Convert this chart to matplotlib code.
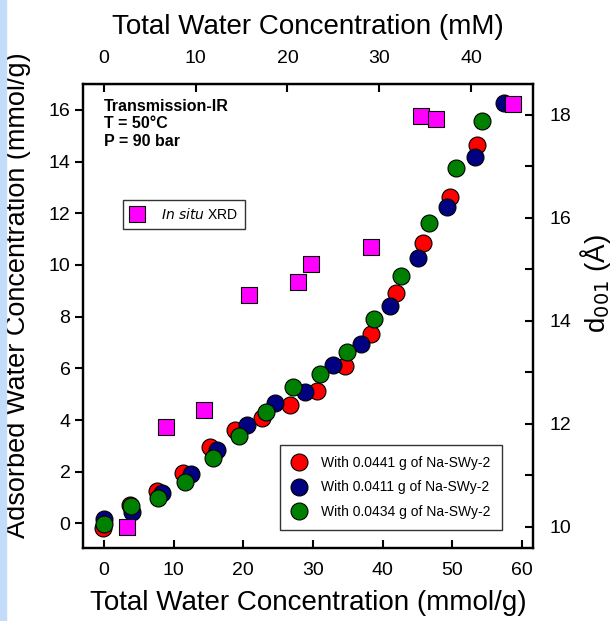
import numpy as np
import matplotlib
matplotlib.use("Agg")
import matplotlib.pyplot as plt
from matplotlib.patches import Rectangle
from matplotlib.ticker import MultipleLocator

plt.rcParams['font.family'] = ['Liberation Sans', 'DejaVu Sans']

# Adsorbed water (mmol/g) vs total water (mmol/g), three sample masses
x_red = [-0.1, 3.8, 7.66, 11.4, 15.2, 18.8, 22.7, 26.7, 30.6, 34.6, 38.3, 42.0, 45.8, 49.7, 53.5]
y_red = [-0.19, 0.72, 1.26, 1.94, 2.94, 3.61, 4.06, 4.58, 5.13, 6.09, 7.33, 8.93, 10.86, 12.62, 14.65]
x_blue = [0.05, 3.97, 8.29, 12.45, 16.3, 20.5, 24.6, 28.9, 32.9, 36.9, 41.0, 45.1, 49.2, 53.3, 57.4]
y_blue = [0.19, 0.45, 1.19, 1.9, 2.86, 3.8, 4.67, 5.1, 6.13, 6.94, 8.41, 10.26, 12.26, 14.17, 16.26]
x_green = [0.05, 3.88, 7.7, 11.6, 15.6, 19.4, 23.2, 27.2, 31.0, 34.96, 38.8, 42.7, 46.6, 50.5, 54.35]
y_green = [-0.03, 0.68, 0.97, 1.59, 2.54, 3.38, 4.32, 5.27, 5.77, 6.64, 7.9, 9.57, 11.61, 13.74, 15.58]

# In situ XRD d001 spacing (Angstrom)
x_xrd = [3.26, 8.9, 14.4, 20.8, 27.9, 29.7, 38.3, 45.5, 47.7, 58.7]
d_xrd = [10.0, 11.94, 12.27, 14.51, 14.75, 15.11, 15.43, 17.98, 17.93, 18.22]

labels = ["With 0.0441 g of Na-SWy-2", "With 0.0411 g of Na-SWy-2", "With 0.0434 g of Na-SWy-2"]
mm_per_mmolg = 1.0 / 1.3176

fig = plt.figure(figsize=(6.12, 6.21), dpi=100)
fig.patches.append(Rectangle((0, 0), 6 / 612, 1, transform=fig.transFigure,
                             color='#c2dcf9', zorder=0))
ax = fig.add_axes([83 / 612, 1 - 548 / 621, 450 / 612, 464 / 621])

ms_c = 12.2
ax.plot(x_red, y_red, 'o', ms=ms_c, mfc='#ff0000', mec='black', mew=0.8, label=labels[0])
ax.plot(x_blue, y_blue, 'o', ms=ms_c, mfc='#000080', mec='black', mew=0.8, label=labels[1])
ax.plot(x_green, y_green, 'o', ms=ms_c, mfc='#008000', mec='black', mew=0.8, label=labels[2])

ax.set_xlim(-3.0, 61.6)
ax.set_ylim(-0.95, 17.0)
ax.xaxis.set_major_locator(MultipleLocator(10))
ax.yaxis.set_major_locator(MultipleLocator(2))
ax.tick_params(axis='x', direction='in', length=6, width=1.5, labelsize=14, pad=10)
ax.tick_params(axis='y', direction='out', length=6, width=1.5, labelsize=14, pad=3)
for s in ax.spines.values():
    s.set_linewidth(1.6)

ax.set_xlabel("Total Water Concentration (mmol/g)", fontsize=20)
ax.set_ylabel("Adsorbed Water Concentration (mmol/g)", fontsize=19.5)
ax.xaxis.set_label_coords(0.5, -0.09)
ax.yaxis.set_label_coords(-0.115, 0.545)

ax.text(0.047, 0.968, "Transmission-IR\nT = 50°C\nP = 90 bar", transform=ax.transAxes,
        fontsize=11.5, fontweight='bold', va='top', ha='left', linespacing=1.2)

leg = ax.legend(loc='lower right', bbox_to_anchor=(0.931, 0.039), borderaxespad=0,
                fontsize=10, frameon=True, fancybox=False, edgecolor='black',
                labelspacing=0.75, handletextpad=1.0, borderpad=0.8, handlelength=1.2)
leg.get_frame().set_linewidth(1.0)

# top axis in mM
top = ax.secondary_xaxis('top', functions=(lambda v: v * mm_per_mmolg, lambda v: v / mm_per_mmolg))
top.xaxis.set_major_locator(MultipleLocator(10))
top.tick_params(direction='in', length=6, width=1.5, labelsize=14, pad=12)
top.set_xlabel("Total Water Concentration (mM)", fontsize=20, labelpad=12)

# right axis: d001
ax2 = ax.twinx()
ax2.plot(x_xrd, d_xrd, 's', ms=11, mfc='#ff00ff', mec='black', mew=0.8, label='$\\it{In\\ situ}$ XRD')
ax2.set_ylim(9.59, 18.6)
ax2.yaxis.set_major_locator(MultipleLocator(2))
ax2.yaxis.set_minor_locator(MultipleLocator(1))
ax2.tick_params(axis='y', which='both', direction='in', length=6, width=1.5, labelsize=14, pad=12)
ax2.set_ylabel("d$_{001}$ (Å)", fontsize=20)
ax2.yaxis.set_label_coords(1.1, 0.569)
for s in ax2.spines.values():
    s.set_linewidth(1.6)

leg2 = ax2.legend(loc='lower left', bbox_to_anchor=(0.089, 0.6875), borderaxespad=0,
                  fontsize=10, frameon=True, fancybox=False, edgecolor='black',
                  handletextpad=1.2, borderpad=0.5, handlelength=1.0)
leg2.get_frame().set_linewidth(1.0)

fig.savefig("out.png", dpi=100)
